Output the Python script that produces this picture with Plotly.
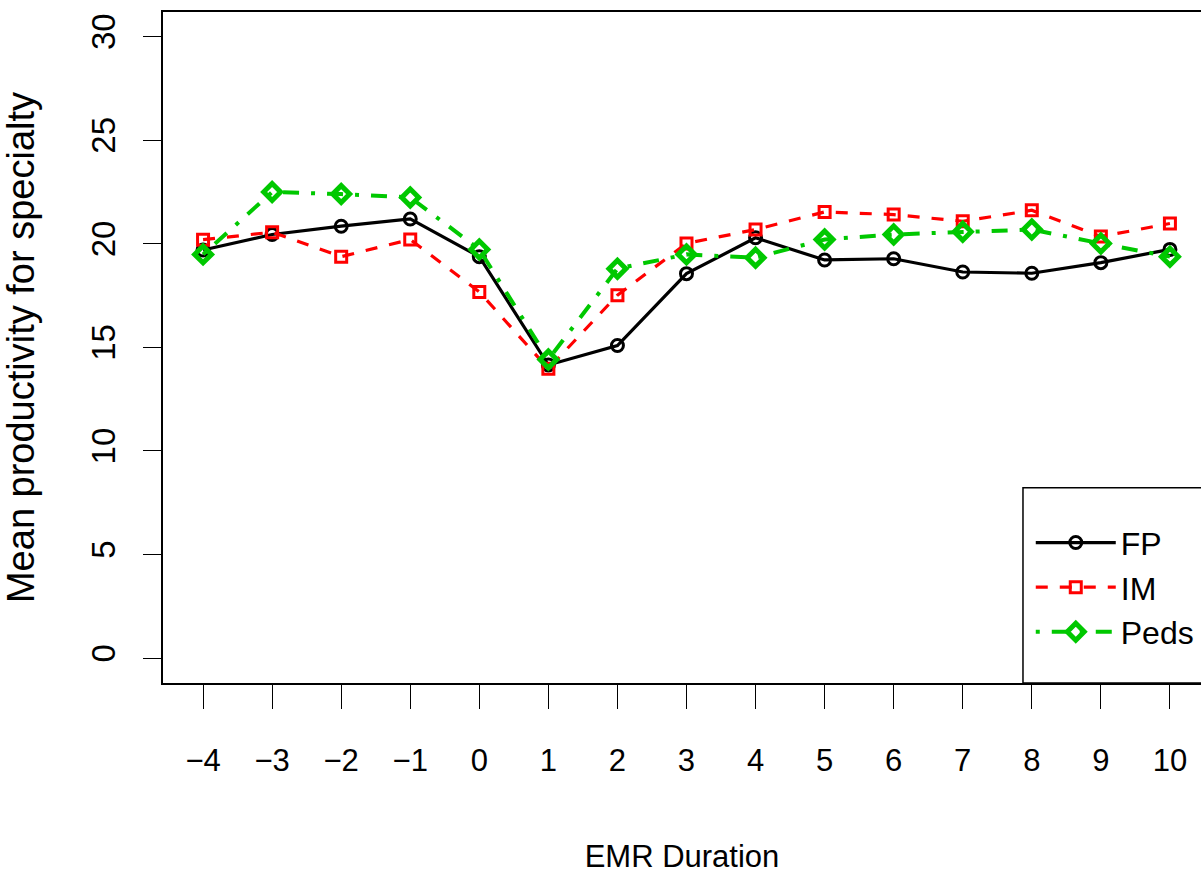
import plotly.graph_objects as go

emr_duration = [-4, -3, -2, -1, 0, 1, 2, 3, 4, 5, 6, 7, 8, 9, 10]
fp_values = [19.7, 20.45, 20.85, 21.2, 19.38, 14.15, 15.09, 18.56, 20.29, 19.22, 19.28, 18.64, 18.58, 19.09, 19.73]
im_values = [20.2, 20.56, 19.38, 20.21, 17.68, 13.97, 17.52, 20.02, 20.69, 21.54, 21.41, 21.09, 21.62, 20.35, 20.98]
peds_values = [19.49, 22.5, 22.4, 22.24, 19.73, 14.42, 18.8, 19.49, 19.33, 20.21, 20.45, 20.58, 20.69, 20.02, 19.38]
y_ticks = [0, 5, 10, 15, 20, 25, 30]

FONT = "Liberation Sans, Arial, sans-serif"

fig = go.Figure()
fig.add_trace(go.Scatter(
    x=emr_duration, y=fp_values, name="FP", mode="lines+markers",
    line=dict(color="black", width=3.2, dash="solid"),
    marker=dict(symbol="circle-open", size=12, color="black", line=dict(width=3, color="black")),
))
fig.add_trace(go.Scatter(
    x=emr_duration, y=im_values, name="IM", mode="lines+markers",
    line=dict(color="#FF0000", width=3.2, dash="12px,12px"),
    marker=dict(symbol="square-open", size=11, color="#FF0000", line=dict(width=3, color="#FF0000")),
))
fig.add_trace(go.Scatter(
    x=emr_duration, y=peds_values, name="Peds", mode="lines+markers",
    line=dict(color="#00C800", width=4, dash="4px,12px,16px,12px"),
    marker=dict(symbol="diamond-open", size=13, color="#00C800", line=dict(width=5, color="#00C800")),
))

# legend frame (cut at the right edge like the reference)
fig.add_shape(type="rect", xref="paper", yref="paper",
              x0=0.8285, x1=1.05, y0=0, y1=0.291,
              line=dict(color="black", width=1.5), fillcolor="white", layer="below")

fig.update_layout(
    width=1201, height=874,
    margin=dict(l=163, r=0, t=12, b=188),
    paper_bgcolor="white", plot_bgcolor="white",
    font=dict(family=FONT, color="black"),
    showlegend=True,
    legend=dict(
        x=0.836, y=0.25, xanchor="left", yanchor="top",
        bgcolor="rgba(0,0,0,0)", borderwidth=0,
        font=dict(size=32, family=FONT, color="black"),
        itemwidth=80, tracegroupgap=0,
    ),
    xaxis=dict(
        range=[-4.58, 10.45], tickmode="array", tickvals=emr_duration,
        ticks="outside", ticklen=24, tickwidth=1.2, tickcolor="black",
        showline=True, linecolor="black", linewidth=1.5, mirror=True,
        showgrid=False, zeroline=False,
        tickfont=dict(size=31, family=FONT),
        ticklabelstandoff=25,
        title=dict(text="EMR Duration", font=dict(size=31, family=FONT), standoff=74),
    ),
    yaxis=dict(
        range=[-1.2, 31.19], tickmode="array", tickvals=y_ticks,
        ticktext=[str(v) for v in y_ticks],
        ticks="outside", ticklen=18, tickwidth=1.2, tickcolor="black",
        showline=True, linecolor="black", linewidth=1.5, mirror=False,
        showgrid=False, zeroline=False,
        tickangle=-90,
        tickfont=dict(size=33, family=FONT),
        ticklabelstandoff=15,
        title=dict(text="Mean productivity for specialty", font=dict(size=38, family=FONT), standoff=40),
    ),
)

fig.write_html("out.html", config={"displayModeBar": False},
               post_script="document.body.style.margin='0';document.body.style.overflow='hidden';")
